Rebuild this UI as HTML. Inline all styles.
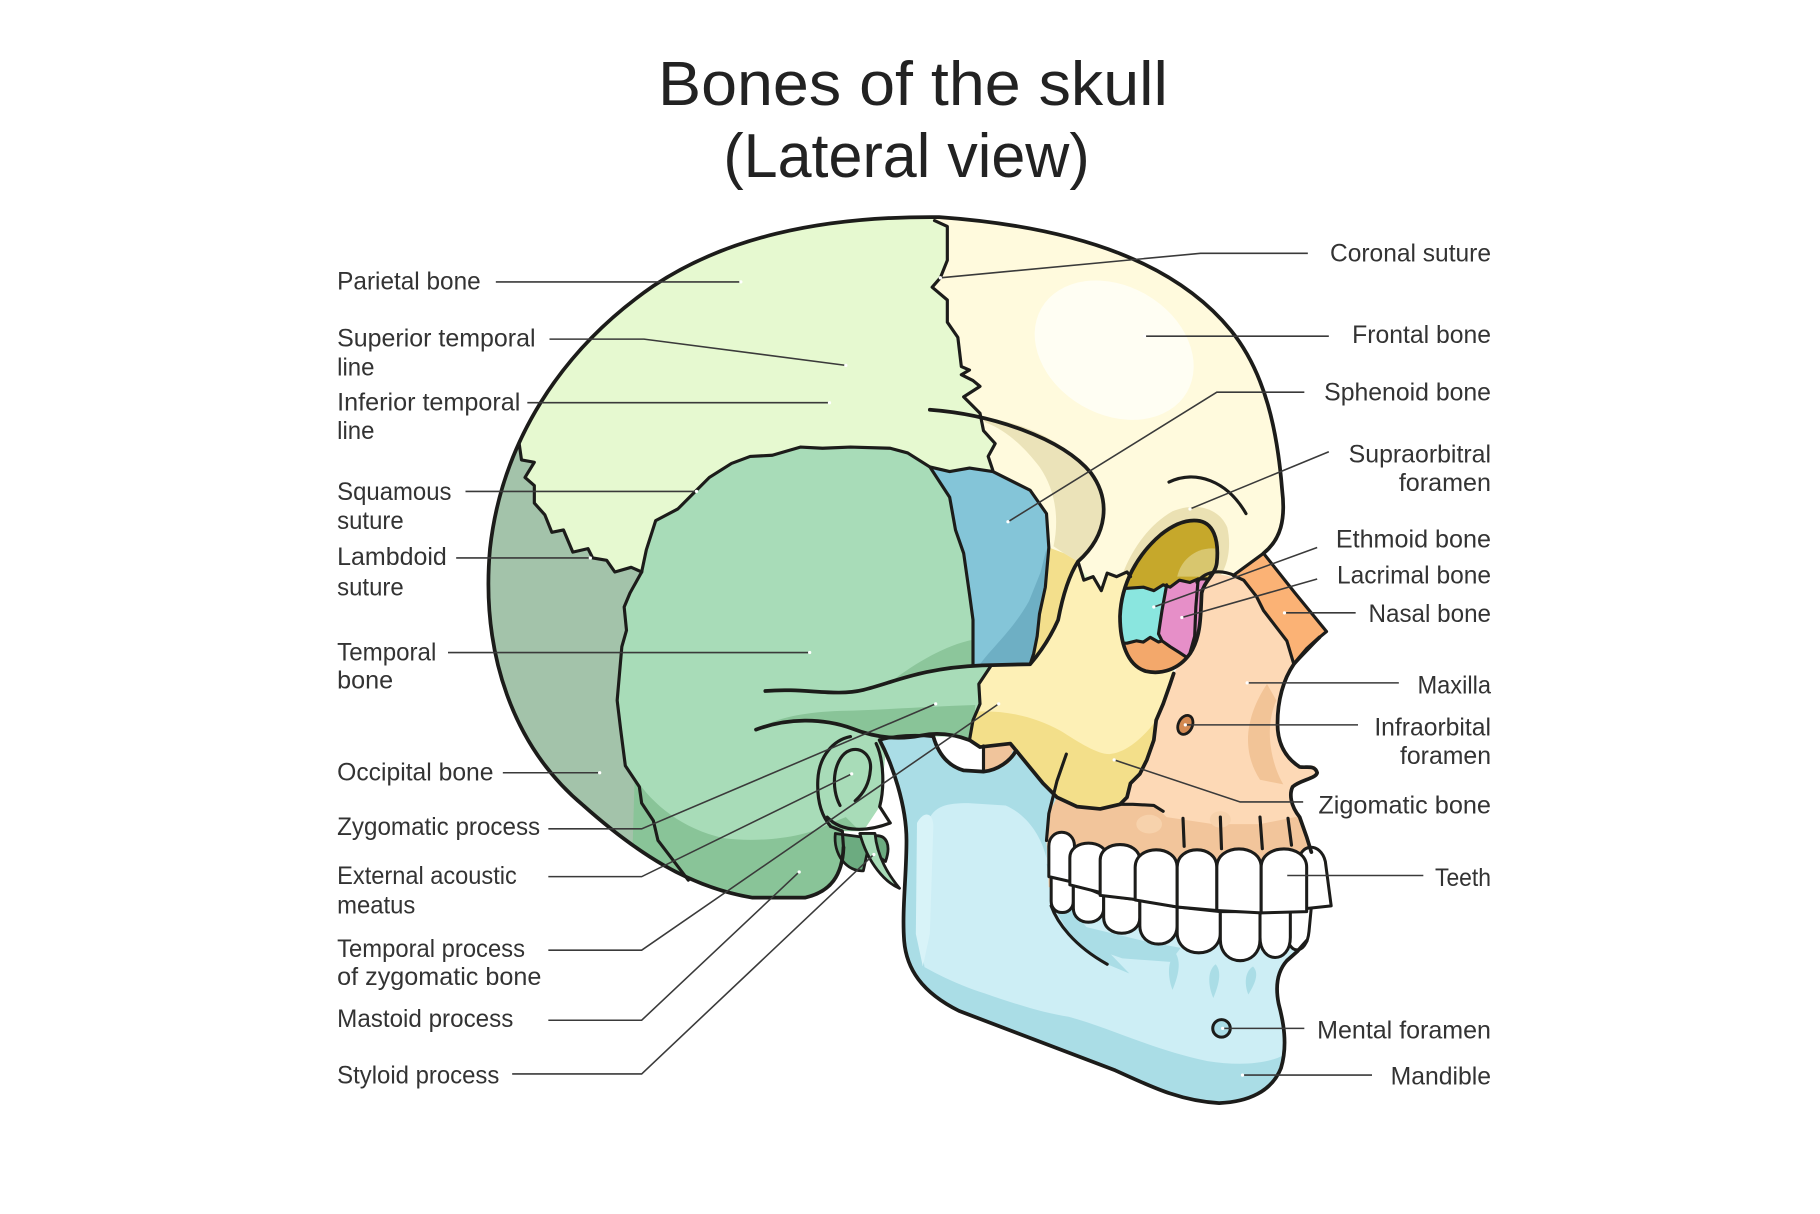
<!DOCTYPE html>
<html><head><meta charset="utf-8"><title>Bones of the skull (Lateral view)</title>
<style>
html,body{margin:0;padding:0;background:#fff;}
svg{display:block;}
.lab{font-family:"Liberation Sans",sans-serif;font-size:21.5px;fill:#333;}
.ttl{font-family:"Liberation Sans",sans-serif;font-size:53px;fill:#222;}
.ol{fill:none;stroke:#1c1c1a;stroke-width:2.7;stroke-linejoin:round;stroke-linecap:round;}
.olb{fill:none;stroke:#1c1c1a;stroke-width:3.2;stroke-linejoin:round;stroke-linecap:round;}
.ld{fill:none;stroke:#3a3a3a;stroke-width:1.35;}
.dot{fill:#fff;}
</style></head>
<body>
<svg width="1820" height="1214" viewBox="0 0 1560 1040" preserveAspectRatio="none" xmlns="http://www.w3.org/2000/svg">
<defs>
<clipPath id="cl"><path d="M805,186 C930,195 1010,228 1055,283 C1085,320 1095,370 1099,420 C1102,445 1098,462 1083,474 L1059,489 L1045,505 L1005,577 L1000,650 L868,643 L845,640 L834,634 L800,631 L760,636 L757,666 L754,691 L740,712 L722,712 L723,726 C722,750 712,764 690,769 L645,769 C590,760 545,730 500,690 C440,640 412,560 420,470 C430,380 480,300 560,245 C620,205 700,185 805,186 Z"/></clipPath>
<clipPath id="zy"><path d="M924,481 L929,497 L937,494 L944,506 L949,491 L957,494 L966,490 L969,494 L985,470 L1010,470 L1000,560 L1006,577 L1003,586 L997,603 L991,617 L989,634 L983,651 L977,663 L969,671 L966,683 L960,689 L943,693 L923,691 L906,683 L894,671 L880,654 L871,643 L866,637 L840,640 L831,634 L831,631 L834,617 L840,603 L839,586 L849,574 L848,569 L883,569 L889,562 L896,550 L907,531 L911,509 L917,494 Z"/></clipPath>
<clipPath id="md"><path d="M754,634 L780,631 L800,631 L804,640 L808,649 L816,656 L826,660 L843,661 L855,659 L865,654 L868,643 L906,683 L899,697 L897,720 L899,750 L1124,790 L1112,815 L1103,823 C1095,832 1093,845 1096,860 C1100,875 1104,895 1098,915 C1090,935 1070,944 1045,945 C1010,943 985,930 956,917 L822,866 C790,850 777,830 775,806 C773,780 777,750 777,720 C777,690 765,655 754,634 Z"/></clipPath>
<clipPath id="orb"><path d="M1026,446 C1040,447 1045,462 1043,482 C1042,492 1032,498 1030,508 C1029,525 1030,545 1020,560 C1010,574 995,578 982,575 C966,570 960,550 960,528 C961,500 975,475 995,458 C1005,450 1015,445 1026,446 Z"/></clipPath>
</defs>

<rect x="0" y="0" width="1560" height="1040" fill="#fff"/>

<!-- Title -->
<text class="ttl" x="564" y="90" textLength="437" lengthAdjust="spacingAndGlyphs">Bones of the skull</text>
<text class="ttl" x="620" y="151.5" textLength="314" lengthAdjust="spacingAndGlyphs">(Lateral view)</text>

<!-- Cranium fills -->
<g clip-path="url(#cl)">
  <rect x="380" y="150" width="760" height="660" fill="#e6f9d0"/>
  <path fill="#fffadd" d="M801,189 L812,194 L812,223 L806,238 L799,246 L812,257 L812,276 L821,289 L824,314 L831,317 L824,321 L834,326 L840,331 L826,340 L840,354 L843,369 L853,380 L847,391 L851,403 L853,404 L883,420 L897,440 L899,469 L912,474 L1000,560 L1200,560 L1200,150 L801,150 Z"/>
  <ellipse cx="955" cy="300" rx="72" ry="55" transform="rotate(30 955 300)" fill="#fffef3"/>
  <path fill="#ebe1b3" d="M955,530 C955,495 975,455 1005,438 C1025,430 1045,435 1052,452 C1056,470 1052,490 1040,500 L1000,520 Z"/>
  <!-- occipital -->
  <path fill="#a3c3aa" d="M445,380 L447,394 L458,396 L450,409 L458,416 L458,431 L467,441 L473,456 L483,454 L491,473 L504,470 L508,478 L520,480 L527,490 L541,486 L550,490 L540,508 L535,520 L537,540 L533,554 L529,600 L532,625 L536,656 L548,674 L550,688 L560,703 L564,720 L577,737 L590,754 L600,800 L380,800 L380,370 Z"/>
  <!-- temporal -->
  <path fill="#a8dcb8" d="M550,490 L554,471 L562,446 L581,436 L597,420 L608,409 L627,397 L643,391 L662,390 L686,383 L705,384 L729,383 L763,384 L778,388 L797,400 L814,426 L819,454 L826,474 L831,509 L834,531 L834,569 L849,571 L839,586 L840,603 L834,617 L831,634 L800,631 L760,636 L757,666 L754,691 L740,712 L722,712 L740,800 L590,800 L590,754 L577,737 L564,720 L560,703 L550,688 L548,674 L536,656 L532,625 L529,600 L533,554 L537,540 L535,520 L540,508 Z"/>
  <path fill="#89c498" d="M544,666 C560,690 585,710 620,718 C650,722 690,718 712,705 L725,700 L745,720 L745,800 L540,800 Z"/>
  <path fill="#89c498" d="M648,625 C665,615 690,610 720,609 C760,608 800,605 836,604 L834,634 C820,630 805,627 790,630 C770,634 750,632 730,624 C705,615 675,615 648,625 Z"/>
  <path fill="#8cc69b" d="M765,583 C785,568 810,553 834,548 L834,569 L815,572 L788,576 Z"/>
  <!-- sphenoid blue -->
  <path fill="#84c5d8" d="M797,400 L814,404 L831,401 L851,404 L883,420 L897,440 L899,469 L896,503 L891,526 L889,545 L886,560 L883,569 L834,569 L834,531 L831,509 L826,474 L819,454 L814,426 Z"/>
  <path fill="#6eafc4" d="M897,470 L896,503 L891,526 L889,545 L886,560 L883,569 L840,569 C850,555 868,540 882,515 L892,490 Z"/>
  <!-- yellow strip -->
  <path fill="#f3df8c" d="M899,469 L912,474 L924,481 C915,495 910,515 907,531 C903,540 895,555 883,569 L886,560 L889,545 L891,526 L896,503 Z"/>
  <!-- tan crescent -->
  <path fill="#ebe3b9" d="M840,357 C880,362 915,380 935,405 C952,428 950,458 924,481 L912,474 L903,468 C908,445 905,420 891,400 C878,383 862,368 845,362 Z"/>
</g>

<!-- white notch + tan patch -->
<path fill="#fff" d="M800,631 L822,631 L834,634 L840,640 L866,637 L871,643 L865,654 L855,659 L843,661 L826,660 L816,656 L808,649 L804,640 Z"/>
<path fill="#f0c49b" d="M843,639 L866,637 L871,643 L865,654 L855,659 L843,661 Z"/>

<!-- Mandible -->
<g clip-path="url(#md)">
  <rect x="740" y="620" width="400" height="340" fill="#cdeef5"/>
  <path fill="#aadde6" d="M750,628 L872,628 L906,683 L899,697 L897,735 C892,715 880,698 862,690 L830,688 C812,688 800,690 795,705 L790,760 L788,800 L795,845 L778,845 L768,800 Z"/>
  <path fill="#d8f3f8" d="M786,705 C792,694 800,696 800,708 L797,800 L791,828 L785,800 Z"/>
  <path fill="#aadde6" d="M897,740 L905,780 L920,806 L949,826 L968,834 L940,805 L918,778 L906,745 Z"/>
  <path fill="#aadde6" d="M922,792 L980,806 L1012,812 L1003,824 L962,821 L936,812 Z"/>
  <path fill="#aadde6" d="M770,815 C790,828 815,842 844,851 C870,860 895,868 916,871 C950,880 990,900 1035,909 C1060,913 1085,912 1100,904 L1115,960 L760,960 Z"/>
  <path fill="#aadde6" d="M1008,817 C1000,822 1001,838 1005,848 C1009,838 1013,826 1008,817 Z"/>
  <path fill="#aadde6" d="M1042,826 C1034,832 1036,846 1040,855 C1044,845 1048,833 1042,826 Z"/>
  <path fill="#aadde6" d="M1074,828 C1066,833 1067,845 1070,852 C1075,844 1080,834 1074,828 Z"/>
</g>

<!-- Maxilla -->
<path fill="#fdd9b6" d="M1006,577 L1011,569 L1023,554 L1029,537 L1029,503 L1037,491 L1051,493 L1066,497 L1077,511 L1083,523 L1103,549 L1109,569 L1103,578 L1099,591 L1095,620 L1099,643 L1107,652 L1114,657 L1127,656 L1129,662 L1117,669 L1108,674 L1107,689 L1114,700 L1120,717 L1124,730 L1124,760 L899,760 L897,720 L899,697 L906,683 L923,691 L943,693 L960,689 L966,683 L969,671 L977,663 L983,651 L989,634 L991,617 L997,603 L1003,586 Z"/>
<path fill="#f2c59b" d="M899,697 L906,683 L923,691 L943,693 L960,689 L989,690 L1000,700 L1040,706 L1080,706 L1110,700 L1114,700 L1120,717 L1124,730 L1124,760 L899,760 Z"/>
<ellipse cx="985" cy="706" rx="11" ry="8" fill="#f7d2ac"/>
<ellipse cx="1046" cy="702" rx="9" ry="7" fill="#f7d2ac"/>
<path fill="#f2c497" d="M1086,586 C1070,610 1062,640 1080,668 L1100,672 C1090,655 1083,625 1094,600 Z"/>
<ellipse cx="1016" cy="621" rx="6" ry="8.5" transform="rotate(25 1016 621)" fill="#d48a52" stroke="#1c1c1a" stroke-width="2.4"/>

<!-- Zygomatic -->
<g clip-path="url(#zy)">
  <rect x="820" y="460" width="200" height="240" fill="#fdf0b6"/>
  <path fill="#f3df8a" d="M820,611 C850,607 880,610 909,626 C925,636 940,646 951,646 C965,645 980,632 991,617 L1010,600 L1010,720 L820,720 Z"/>
</g>

<!-- Nasal bone -->
<path fill="#fbb275" stroke="#1c1c1a" stroke-width="2.7" stroke-linejoin="round" d="M1057,493 L1083,474 L1110,508 L1137,541 L1131,546 L1109,569 L1103,549 L1093,536 L1083,523 L1077,511 L1066,497 Z"/>

<!-- Orbit -->
<g clip-path="url(#orb)">
  <rect x="950" y="440" width="100" height="140" fill="#c6a82b"/>
  <path fill="#d8c66e" d="M1009,494 C1012,480 1025,468 1043,470 L1045,494 Z"/>
  <path fill="#8ae6df" d="M955,504 L966,504 L980,503 L989,506 L997,501 L1000,501 L996,523 L993,543 L996,549 L993,550 L986,546 L980,550 L974,549 L966,551 L955,551 Z"/>
  <path fill="#e68fc8" d="M1000,501 L1003,503 L1011,497 L1020,499 L1027,496 L1035,496 L1035,570 L1017,563 L1011,559 L1003,554 L996,549 L993,543 L996,523 Z"/>
  <path fill="#f3a86b" d="M955,551 L966,551 L974,549 L980,550 L986,546 L993,550 L996,549 L1003,554 L1011,559 L1017,563 L1035,570 L1035,590 L955,590 Z"/>
  <path class="ol" d="M955,504 L966,504 L980,503 L989,506 L997,501 L1003,503 L1011,497 L1020,499 L1027,496 L1035,496"/>
  <path class="ol" d="M1000,501 L996,523 L993,543 L996,549"/>
  <path class="ol" d="M958,551 L966,551 L974,549 L980,550 L986,546 L993,550 L996,549 L1003,554 L1011,559 L1017,563 L1024,566"/>
  <path class="ol" d="M1027,496 L1025,520 L1024,545 L1019,563"/>
</g>
<path class="olb" d="M1026,446 C1040,447 1045,462 1043,482 C1042,492 1032,498 1030,508 C1029,525 1030,545 1020,560 C1010,574 995,578 982,575 C966,570 960,550 960,528 C961,500 975,475 995,458 C1005,450 1015,445 1026,446 Z"/>
<path class="ol" d="M1026,499 C1032,490 1045,487 1058,493"/>

<!-- Teeth lower -->
<g fill="#fff" stroke="#1c1c1a" stroke-width="2.6" stroke-linejoin="round">
  <path d="M901,749 L901,772 C901,785 920,785 920,772 L920,756 Z"/>
  <path d="M920,756 L920,778 C920,794 946,794 946,778 L946,767 Z"/>
  <path d="M946,767 L946,786 C946,804 977,804 977,786 L977,771 Z"/>
  <path d="M977,771 L977,793 C977,814 1009,814 1009,793 L1009,777 Z"/>
  <path d="M1009,777 L1009,799 C1009,822 1046,822 1046,799 L1046,781 Z"/>
  <path d="M1103,779 L1103,798 C1103,819 1120,819 1122,798 L1124,777 Z"/>
  <path d="M1080,781 L1080,803 C1080,826 1106,826 1106,803 L1106,780 Z"/>
  <path d="M1046,781 L1046,805 C1046,829 1080,829 1080,805 L1080,781 Z"/>
</g>
<!-- Teeth upper -->
<g fill="#fff" stroke="#1c1c1a" stroke-width="2.6" stroke-linejoin="round">
  <path d="M899,751 L899,725 C899,709 921,709 921,725 L921,756 Z"/>
  <path d="M917,758 L917,735 C917,718 949,718 949,735 L949,766 Z"/>
  <path d="M943,767 L943,737 C943,719 977,719 977,737 L977,771 Z"/>
  <path d="M973,771 L973,743 C973,723 1009,723 1009,743 L1009,777 Z"/>
  <path d="M1009,777 L1009,743 C1009,723 1043,723 1043,743 L1043,780 Z"/>
  <path d="M1113,779 L1113,740 C1113,722 1132,721 1136,738 L1141,776 Z"/>
  <path d="M1043,780 L1043,743 C1043,722 1081,722 1081,743 L1081,782 Z"/>
  <path d="M1081,782 L1081,743 C1081,722 1120,722 1120,743 L1120,781 Z"/>
</g>

<!-- Ear structures -->
<path fill="#6cab80" stroke="#1c1c1a" stroke-width="2.4" stroke-linejoin="round" d="M716,714 C714,732 726,747 740,746 L746,718 Z"/>
<path fill="#6cab80" stroke="#1c1c1a" stroke-width="2.4" stroke-linejoin="round" d="M750,716 C760,715 764,724 759,738 L752,733 Z"/>
<path fill="#a8dcb8" stroke="#1c1c1a" stroke-width="2.4" stroke-linejoin="round" d="M737,714 L750,714 C752,735 762,750 771,761 C759,756 744,740 737,714 Z"/>
<path class="ol" d="M729,631 C714,634 702,648 701,668 C700,688 705,700 712,708"/>
<path class="ol" d="M709,700 C722,714 745,712 763,705"/>
<path class="ol" d="M751,637 C758,652 758,676 754,691 L763,705"/>
<path class="ol" d="M720,690 C712,675 714,652 726,644 C736,638 748,646 746,660 C745,672 740,680 733,686"/>
<path class="ol" d="M712,708 L722,712 L723,726"/>

<!-- Outlines -->
<path class="olb" d="M1083,474 C1098,462 1102,445 1099,420 C1095,370 1085,320 1055,283 C1010,228 930,195 805,186 C700,185 620,205 560,245 C480,300 430,380 420,470 C412,560 440,640 500,690 C545,730 590,760 645,769 L690,769 C712,764 722,750 723,726"/>
<path class="ol" d="M801,189 L812,194 L812,223 L806,238 L799,246 L812,257 L812,276 L821,289 L824,314 L831,317 L824,321 L834,326 L840,331 L826,340 L840,354 L843,369 L853,380 L847,391 L851,403"/>
<path class="ol" d="M445,380 L447,394 L458,396 L450,409 L458,416 L458,431 L467,441 L473,456 L483,454 L491,473 L504,470 L508,478 L520,480 L527,490 L541,486 L550,490"/>
<path class="ol" d="M550,490 L554,471 L562,446 L581,436 L597,420 L608,409 L627,397 L643,391 L662,390 L686,383 L705,384 L729,383 L763,384 L778,388 L797,400 L814,404 L831,401 L851,404 L883,420 L897,440 L899,469 L896,503 L891,526 L889,545 L886,560 L883,569"/>
<path class="ol" d="M797,400 L814,426 L819,454 L826,474 L831,509 L834,531 L834,569"/>
<path class="ol" d="M550,490 L540,508 L535,520 L537,540 L533,554 L529,600 L532,625 L536,656 L548,674 L550,688 L560,703 L564,720 L577,737 L590,754"/>
<path class="olb" d="M656,592 C690,589 715,597 740,591 C765,585 790,572 842,570 L883,569 C895,555 903,540 907,531 C910,515 915,495 924,481 C950,458 952,428 935,405 C910,375 850,355 797,351"/>
<path class="olb" d="M648,625 C675,615 705,615 730,624 C750,632 770,634 790,630 C805,627 820,630 831,634"/>
<path class="ol" d="M849,571 L839,586 L840,603 L834,617 L831,634"/>
<path class="olb" d="M831,634 L840,640 L866,637 L871,643 L880,654 L894,671 L906,683 L923,691 L943,693 L960,689 L966,683 L969,671 L977,663 L983,651 L989,634 L991,617 L997,603 L1003,586 L1006,577"/>
<path class="ol" d="M960,689 L971,689 L989,690 L997,695"/>
<path class="ol" d="M924,481 L929,497 L937,494 L944,506 L949,491 L957,494 L966,490 L969,494"/>
<path class="ol" d="M843,639 L843,661"/>
<path class="olb" d="M800,631 C804,645 812,656 826,660 L843,661 C855,660 866,652 871,643"/>
<path class="ol" d="M914,646 L906,669 L899,697 L897,720"/>
<path class="ol" d="M901,776 C906,790 920,810 949,826"/>
<path class="olb" d="M754,634 C765,655 777,690 777,720 C777,750 773,780 775,806 C777,830 790,850 822,866 L956,917 C985,930 1010,943 1045,945 C1070,944 1090,935 1098,915 C1104,895 1100,875 1096,860 C1093,845 1095,832 1103,823 L1112,815 L1120,806"/>
<path class="ol" d="M754,634 C768,630 785,629 800,631"/>
<path class="olb" d="M1131,546 L1120,556 L1109,569 C1100,582 1095,600 1095,620 C1095,635 1100,648 1114,657 C1120,658 1127,655 1129,662 C1128,667 1115,668 1108,674 C1105,680 1106,690 1114,700 L1120,717 L1124,730"/>
<path class="ol" d="M1002,413 C1025,402 1052,412 1068,440"/>
<g class="ol" stroke-width="2.2">
  <path d="M1014,701 L1015,725"/><path d="M1046,700 L1047,727"/><path d="M1080,700 L1082,727"/><path d="M1104,701 L1107,724"/>
</g>
<circle cx="1047" cy="881" r="7.5" fill="#aadde6" stroke="#1c1c1a" stroke-width="2.6"/>

<!-- Leader lines -->
<g class="ld">
  <path d="M425,241.5 H635"/>
  <path d="M471,290.5 H552 L725,313"/>
  <path d="M452,345 H711"/>
  <path d="M399,421 H597"/>
  <path d="M391,478 H506"/>
  <path d="M384,559 H694"/>
  <path d="M431,662 H514"/>
  <path d="M470,710 H550 L802,603"/>
  <path d="M470,751 H550 L730,663"/>
  <path d="M470,814 H550 L856,603"/>
  <path d="M470,874 H550 L685,747"/>
  <path d="M439,920 H550 L749,732"/>
  <path d="M1121,217 H1029 L806,238"/>
  <path d="M1139,288 H981"/>
  <path d="M1118,336 H1043 L864,447"/>
  <path d="M1139,387 L1020,436"/>
  <path d="M1129,469 L989,520"/>
  <path d="M1129,496 L1013,529"/>
  <path d="M1162,525 H1101"/>
  <path d="M1199,585 H1069"/>
  <path d="M1164,621 H1016"/>
  <path d="M1117,687 H1063 L955,651"/>
  <path d="M1220,750 H1102"/>
  <path d="M1118,881 H1048"/>
  <path d="M1176,921 H1065"/>
</g>
<g class="dot">
  <circle cx="635" cy="241.5" r="1.4"/><circle cx="725" cy="313" r="1.4"/><circle cx="711" cy="345" r="1.4"/>
  <circle cx="597" cy="421" r="1.4"/><circle cx="506" cy="478" r="1.4"/><circle cx="694" cy="559" r="1.4"/>
  <circle cx="514" cy="662" r="1.4"/><circle cx="802" cy="603" r="1.4"/><circle cx="730" cy="663" r="1.4"/>
  <circle cx="856" cy="603" r="1.4"/><circle cx="685" cy="747" r="1.4"/><circle cx="749" cy="732" r="1.4"/>
  <circle cx="806" cy="238" r="1.4"/><circle cx="981" cy="288" r="1.4"/><circle cx="864" cy="447" r="1.4"/>
  <circle cx="1020" cy="436" r="1.4"/><circle cx="989" cy="520" r="1.4"/><circle cx="1013" cy="529" r="1.4"/>
  <circle cx="1101" cy="525" r="1.4"/><circle cx="1069" cy="585" r="1.4"/><circle cx="1016" cy="621" r="1.4"/>
  <circle cx="955" cy="651" r="1.4"/><circle cx="1102" cy="750" r="1.4"/><circle cx="1048" cy="881" r="1.4"/>
  <circle cx="1065" cy="921" r="1.4"/>
</g>

<!-- Left labels -->
<g class="lab">
  <text x="289" y="248" textLength="123" lengthAdjust="spacingAndGlyphs">Parietal bone</text>
  <text x="289" y="297" textLength="170" lengthAdjust="spacingAndGlyphs">Superior temporal</text>
  <text x="289" y="321.5" textLength="32" lengthAdjust="spacingAndGlyphs">line</text>
  <text x="289" y="351.5" textLength="157" lengthAdjust="spacingAndGlyphs">Inferior temporal</text>
  <text x="289" y="376" textLength="32" lengthAdjust="spacingAndGlyphs">line</text>
  <text x="289" y="428.5" textLength="98" lengthAdjust="spacingAndGlyphs">Squamous</text>
  <text x="289" y="453" textLength="57" lengthAdjust="spacingAndGlyphs">suture</text>
  <text x="289" y="484" textLength="94" lengthAdjust="spacingAndGlyphs">Lambdoid</text>
  <text x="289" y="510" textLength="57" lengthAdjust="spacingAndGlyphs">suture</text>
  <text x="289" y="566" textLength="85" lengthAdjust="spacingAndGlyphs">Temporal</text>
  <text x="289" y="590" textLength="48" lengthAdjust="spacingAndGlyphs">bone</text>
  <text x="289" y="668.5" textLength="134" lengthAdjust="spacingAndGlyphs">Occipital bone</text>
  <text x="289" y="715.5" textLength="174" lengthAdjust="spacingAndGlyphs">Zygomatic process</text>
  <text x="289" y="757.5" textLength="154" lengthAdjust="spacingAndGlyphs">External acoustic</text>
  <text x="289" y="782.5" textLength="67" lengthAdjust="spacingAndGlyphs">meatus</text>
  <text x="289" y="820" textLength="161" lengthAdjust="spacingAndGlyphs">Temporal process</text>
  <text x="289" y="844" textLength="175" lengthAdjust="spacingAndGlyphs">of zygomatic bone</text>
  <text x="289" y="880" textLength="151" lengthAdjust="spacingAndGlyphs">Mastoid process</text>
  <text x="289" y="928" textLength="139" lengthAdjust="spacingAndGlyphs">Styloid process</text>
</g>
<!-- Right labels -->
<g class="lab">
  <text x="1140" y="224" textLength="138" lengthAdjust="spacingAndGlyphs">Coronal suture</text>
  <text x="1159" y="294" textLength="119" lengthAdjust="spacingAndGlyphs">Frontal bone</text>
  <text x="1135" y="343" textLength="143" lengthAdjust="spacingAndGlyphs">Sphenoid bone</text>
  <text x="1156" y="396" textLength="122" lengthAdjust="spacingAndGlyphs">Supraorbitral</text>
  <text x="1199" y="420.5" textLength="79" lengthAdjust="spacingAndGlyphs">foramen</text>
  <text x="1145" y="469" textLength="133" lengthAdjust="spacingAndGlyphs">Ethmoid bone</text>
  <text x="1146" y="500" textLength="132" lengthAdjust="spacingAndGlyphs">Lacrimal bone</text>
  <text x="1173" y="533" textLength="105" lengthAdjust="spacingAndGlyphs">Nasal bone</text>
  <text x="1215" y="594" textLength="63" lengthAdjust="spacingAndGlyphs">Maxilla</text>
  <text x="1178" y="630" textLength="100" lengthAdjust="spacingAndGlyphs">Infraorbital</text>
  <text x="1200" y="654.5" textLength="78" lengthAdjust="spacingAndGlyphs">foramen</text>
  <text x="1130" y="697" textLength="148" lengthAdjust="spacingAndGlyphs">Zigomatic bone</text>
  <text x="1230" y="759" textLength="48" lengthAdjust="spacingAndGlyphs">Teeth</text>
  <text x="1129" y="889.5" textLength="149" lengthAdjust="spacingAndGlyphs">Mental foramen</text>
  <text x="1192" y="929" textLength="86" lengthAdjust="spacingAndGlyphs">Mandible</text>
</g>
</svg>
</body></html>
